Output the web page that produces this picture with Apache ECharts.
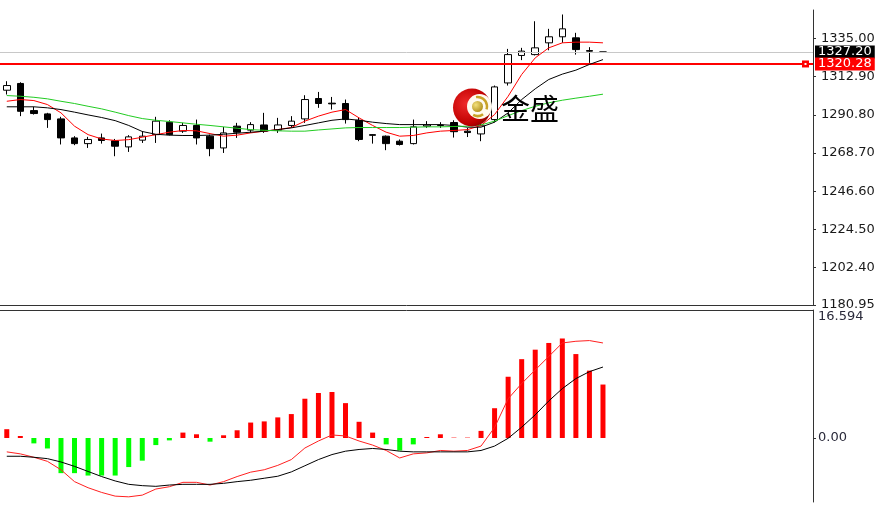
<!DOCTYPE html>
<html>
<head>
<meta charset="utf-8">
<script src="https://cdn.jsdelivr.net/npm/echarts@6/dist/echarts.min.js"></script>
<style>html,body{margin:0;padding:0;background:#fff;}#c{width:880px;height:505px;}</style>
</head>
<body>
<div id="c"></div>
<script>
// ---- data ----
const categories = ['1','2','3','4','5','6','7','8','9','10','11','12','13','14','15','16','17','18','19','20',
  '21','22','23','24','25','26','27','28','29','30','31','32','33','34','35','36','37','38','39','40',
  '41','42','43','44','45','46','47','48','49','50','51','52','53','54','55','56','57','58','59','60'];
const openP  = [1305.1,1309.0,1293.3,1291.4,1288.5,1277.5,1274.2,1277.5,1275.8,1272.3,1276.2,1279.4,1286.6,1281.4,1284.7,1278.5,1271.7,1284.3,1282.0,1285.0,1282.0,1284.7,1288.5,1300.3,1297.6,1297.4,1287.7,1279.4,1278.5,1275.6,1274.2,1284.3,1284.9,1286.4,1281.4,1279.8,1288.1,1309.3,1325.2,1325.7,1332.5,1336.0,1335.4,1328.0,1327.2];
const closeP = [1307.8,1292.9,1291.6,1288.1,1277.5,1274.2,1276.6,1276.0,1272.7,1278.1,1278.5,1287.2,1279.4,1284.7,1277.5,1271.3,1280.4,1280.8,1285.2,1281.4,1285.0,1287.2,1299.7,1297.4,1297.2,1288.1,1276.6,1279.0,1274.2,1273.7,1283.9,1285.0,1284.7,1281.1,1280.6,1284.5,1307.0,1325.7,1327.7,1329.6,1336.0,1340.6,1328.6,1327.7,1327.2];
const lowP   = [1302.6,1290.1,1291.0,1283.3,1273.7,1273.3,1271.7,1274.2,1266.9,1269.4,1274.6,1274.6,1278.9,1280.4,1273.7,1266.9,1268.8,1277.5,1280.4,1280.4,1280.4,1283.3,1286.2,1294.9,1293.9,1285.8,1275.6,1274.2,1270.4,1273.1,1273.7,1283.3,1283.3,1277.7,1278.0,1275.6,1286.5,1307.8,1322.5,1325.2,1328.2,1332.5,1325.7,1320.9,1327.2];
const highP  = [1310.3,1309.7,1295.5,1292.0,1289.7,1278.5,1278.1,1280.0,1276.9,1279.1,1281.4,1289.7,1287.7,1286.2,1288.1,1279.4,1283.9,1286.2,1286.6,1292.0,1289.1,1290.1,1302.2,1304.1,1301.2,1299.7,1289.1,1279.6,1278.9,1276.6,1288.1,1287.2,1286.6,1287.7,1283.3,1286.2,1307.8,1329.0,1329.6,1345.0,1340.6,1348.9,1338.3,1330.0,1327.2];
const maRed   = [1298.7,1299.7,1299.1,1296.8,1292.0,1284.3,1279.4,1276.9,1276.0,1276.5,1277.9,1279.4,1280.8,1281.8,1281.6,1280.0,1278.5,1279.1,1280.4,1281.4,1282.3,1283.5,1287.2,1290.1,1292.4,1293.9,1289.1,1284.7,1280.8,1278.5,1278.9,1280.4,1281.4,1281.8,1282.3,1284.7,1291.0,1301.6,1314.2,1323.8,1329.6,1332.5,1332.9,1332.9,1332.5];
const maBlack = [1295.5,1295.5,1295.5,1294.9,1293.9,1292.4,1290.8,1289.3,1287.5,1284.7,1281.2,1279.6,1279.1,1278.9,1278.9,1279.1,1279.6,1280.2,1280.8,1281.4,1282.3,1283.3,1284.7,1286.2,1287.7,1288.5,1287.7,1286.6,1285.8,1285.2,1285.2,1285.2,1285.2,1284.7,1283.7,1283.7,1286.6,1292.0,1299.7,1305.9,1311.3,1314.4,1316.7,1320.0,1322.8];
const maGreen = [1302.0,1301.6,1301.0,1300.1,1298.7,1297.4,1295.8,1294.3,1292.4,1290.4,1288.7,1287.7,1287.0,1286.2,1285.4,1284.7,1283.9,1283.1,1282.3,1281.9,1281.6,1281.4,1281.4,1282.1,1282.7,1283.3,1283.5,1283.5,1283.5,1283.5,1283.7,1283.9,1283.9,1284.1,1284.3,1285.0,1287.2,1290.4,1293.3,1295.8,1297.8,1299.3,1300.5,1301.6,1302.8];
const macdHist = [1.14,0.26,-0.70,-1.36,-4.56,-4.56,-4.87,-4.87,-4.87,-3.77,-2.94,-0.92,-0.31,0.70,0.48,-0.48,0.35,1.0,2.0,2.15,2.67,3.1,5.09,5.83,5.96,4.52,2.1,0.70,-0.83,-1.62,-0.83,0.13,0.48,0.05,0.05,0.92,3.86,7.94,10.22,11.45,12.32,12.9,10.88,8.73,6.93];
const macdRed  = [-1.8,-2.06,-2.5,-3.03,-4.12,-5.66,-6.45,-7.06,-7.54,-7.63,-7.41,-6.62,-6.32,-5.75,-5.75,-6.1,-5.66,-5.0,-4.43,-4.12,-3.55,-2.8,-1.3,-0.39,0.39,0.26,-0.39,-0.92,-1.62,-2.59,-2.06,-1.93,-1.62,-1.71,-1.62,-1.05,1.36,5.09,7.06,8.82,10.57,12.32,12.54,12.63,12.32];
const macdBlack= [-2.37,-2.37,-2.5,-2.68,-3.11,-3.68,-4.34,-5.0,-5.57,-6.01,-6.18,-6.27,-6.1,-6.01,-6.01,-6.01,-5.88,-5.66,-5.48,-5.22,-4.96,-4.4,-3.6,-2.8,-2.15,-1.71,-1.49,-1.36,-1.49,-1.71,-1.8,-1.8,-1.8,-1.8,-1.8,-1.62,-1.05,-0.04,1.4,3.0,4.8,6.4,7.7,8.6,9.2];
const priceTicks = [1335.00,1312.90,1290.80,1268.70,1246.60,1224.50,1202.40,1180.95];
const priceMin = 1180.95, priceMax = 1351.5;
const macdTicks = [16.594, 0];
const macdMin = -8.3, macdMax = 16.594;
const currentPrice = 1327.20;
const levelPrice = 1320.28;
const logoText = '金盛';

// ---- chart ----
const chart = echarts.init(document.getElementById('c'), null, {renderer:'canvas'});
const FONT = 'DejaVu Sans';
const FS = 13;
const candles = openP.map((o,i)=>[o, closeP[i], lowP[i], highP[i]]);
const lineS = (name, data, color, xi) => ({
  name, type:'line', data, xAxisIndex:xi, yAxisIndex:xi, showSymbol:false, symbol:'none',
  lineStyle:{color, width:1}, z:5, silent:true
});

chart.setOption({
  animation:false,
  backgroundColor:'#ffffff',
  grid:[
    {left:0, right:67, top:10, height:294.8},
    {left:0, right:67, top:310, height:192}
  ],
  xAxis:[
    {type:'category', data:categories, gridIndex:0, boundaryGap:true,
     axisLine:{show:true, onZero:false, lineStyle:{color:'#333', width:1}}, axisTick:{show:false}, axisLabel:{show:false}, splitLine:{show:false}},
    {type:'category', data:categories, gridIndex:1, boundaryGap:true, position:'top',
     axisLine:{show:true, onZero:false, lineStyle:{color:'#333', width:1}}, axisTick:{show:false}, axisLabel:{show:false}, splitLine:{show:false}}
  ],
  yAxis:[
    {type:'value', gridIndex:0, position:'right', min:priceMin, max:priceMax, scale:true,
     axisLine:{show:true, onZero:false, lineStyle:{color:'#333', width:1}},
     axisTick:{show:true, length:3, customValues:priceTicks, lineStyle:{color:'#333'}},
     axisLabel:{show:true, customValues:priceTicks, margin:8, color:'#1a1a1a', fontSize:FS, fontFamily:FONT,
       formatter:v=>v.toFixed(2)},
     splitLine:{show:false}},
    {type:'value', gridIndex:1, position:'right', min:macdMin, max:macdMax,
     axisLine:{show:true, onZero:false, lineStyle:{color:'#333', width:1}},
     axisTick:{show:true, length:3, customValues:[0], lineStyle:{color:'#333'}},
     axisLabel:{show:true, customValues:macdTicks, margin:5, color:'#2a2a3a', fontSize:FS, fontFamily:FONT,
       formatter:v=> v===0 ? '0.00' : '{t|'+v.toFixed(3)+'}',
       rich:{t:{padding:[14,0,0,0], fontSize:FS, fontFamily:FONT, color:'#2a2a3a'}}},
     splitLine:{show:false}}
  ],
  series:[
    {name:'K', type:'candlestick', data:candles, xAxisIndex:0, yAxisIndex:0, barWidth:7,
     itemStyle:{color:'#ffffff', color0:'#000000', borderColor:'#000000', borderColor0:'#000000', borderWidth:1},
     z:3, silent:true,
     markLine:{silent:true, symbol:['none','none'], animation:false, precision:2,
       data:[
         {yAxis:currentPrice, lineStyle:{color:'#c8c8c8', width:1, type:'solid'},
          label:{show:true, position:'end', distance:2, formatter:currentPrice.toFixed(2), color:'#fff', backgroundColor:'#000',
                 padding:[0,3,0,3], fontSize:FS, fontFamily:FONT}},
         {yAxis:levelPrice, lineStyle:{color:'#ff0000', width:2, type:'solid'},
          label:{show:true, position:'end', distance:2, formatter:levelPrice.toFixed(2), color:'#fff', backgroundColor:'#ff0000',
                 padding:[0,3,0,3], fontSize:FS, fontFamily:FONT}}
       ]}
    },
    lineS('MA red', maRed, '#ff0000', 0),
    lineS('MA black', maBlack, '#000000', 0),
    lineS('MA green', maGreen, '#22cc22', 0),
    {name:'MACD', type:'bar', data:macdHist, xAxisIndex:1, yAxisIndex:1, barWidth:5, silent:true,
     itemStyle:{color:p=> p.value>=0 ? '#ff0000' : '#00ff00'}},
    lineS('DIF', macdRed, '#ff2020', 1),
    lineS('DEA', macdBlack, '#000000', 1)
  ]
});

// red level marker and watermark logo
const ly = chart.convertToPixel({yAxisIndex:0}, levelPrice);
chart.setOption({
  graphic:[
    {type:'rect', shape:{x:802, y:ly-3.5, width:7, height:7}, style:{fill:'#ff0000'}, z:100, silent:true},
    {type:'rect', shape:{x:804.5, y:ly-1, width:2, height:2}, style:{fill:'#ffffff'}, z:101, silent:true},
    {type:'group', z:100, silent:true, children:[
      {type:'circle', shape:{cx:472, cy:107.5, r:19},
       style:{fill:new echarts.graphic.RadialGradient(0.35,0.4,0.75,[{offset:0,color:'#ee2a2a'},{offset:0.7,color:'#c00000'},{offset:1,color:'#7a0000'}])}, z:100},
      {type:'circle', shape:{cx:479.5, cy:106.5, r:12.5}, style:{fill:'#fffaf0'}, z:101},
      {type:'arc', shape:{cx:477.5, cy:106.5, r:9.5, startAngle:-Math.PI*0.55, endAngle:Math.PI*0.1, clockwise:true},
       style:{stroke:'#c9a227', lineWidth:2.5, fill:'none'}, z:102},
      {type:'arc', shape:{cx:477.5, cy:106.5, r:9.5, startAngle:Math.PI*0.3, endAngle:Math.PI*0.65, clockwise:true},
       style:{stroke:'#c9a227', lineWidth:2.5, fill:'none'}, z:102},
      {type:'circle', shape:{cx:477.5, cy:106.5, r:5.5},
       style:{fill:new echarts.graphic.RadialGradient(0.35,0.35,0.8,[{offset:0,color:'#f3e07a'},{offset:1,color:'#a88410'}])}, z:103},
      {type:'text', x:501, y:109, style:{text:logoText, font:'29px "Noto Sans CJK SC"', fill:'#000', textVerticalAlign:'middle'}, z:104}
    ]}
  ]
});
</script>
</body>
</html>
